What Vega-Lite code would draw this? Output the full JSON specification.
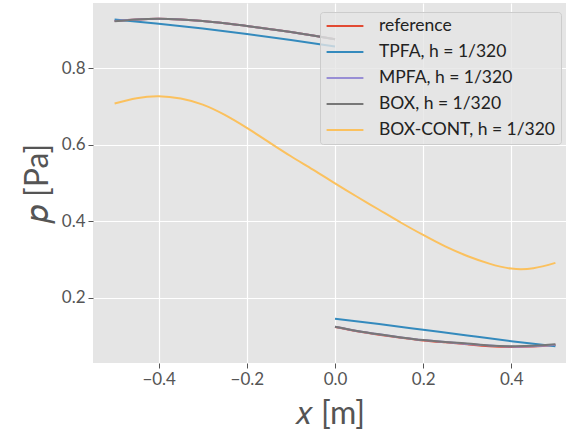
{
  "$schema": "https://vega.github.io/schema/vega-lite/v6.json",
  "autosize": {"type": "none"},
  "padding": {"left": 93, "top": 3, "right": 0, "bottom": 71},
  "width": 473,
  "height": 360,
  "data": {"values": [
    {"s":"reference","g":"L","x":-0.5,"p":0.924},{"s":"reference","g":"L","x":-0.45,"p":0.928},{"s":"reference","g":"L","x":-0.4,"p":0.930},{"s":"reference","g":"L","x":-0.35,"p":0.928},{"s":"reference","g":"L","x":-0.3,"p":0.924},{"s":"reference","g":"L","x":-0.25,"p":0.918},{"s":"reference","g":"L","x":-0.2,"p":0.911},{"s":"reference","g":"L","x":-0.15,"p":0.903},{"s":"reference","g":"L","x":-0.1,"p":0.895},{"s":"reference","g":"L","x":-0.05,"p":0.886},{"s":"reference","g":"L","x":0.0,"p":0.876},
    {"s":"reference","g":"R","x":0.0,"p":0.123},{"s":"reference","g":"R","x":0.05,"p":0.112},{"s":"reference","g":"R","x":0.1,"p":0.103},{"s":"reference","g":"R","x":0.15,"p":0.095},{"s":"reference","g":"R","x":0.2,"p":0.088},{"s":"reference","g":"R","x":0.25,"p":0.083},{"s":"reference","g":"R","x":0.3,"p":0.078},{"s":"reference","g":"R","x":0.35,"p":0.073},{"s":"reference","g":"R","x":0.4,"p":0.071},{"s":"reference","g":"R","x":0.45,"p":0.072},{"s":"reference","g":"R","x":0.5,"p":0.076},
    {"s":"TPFA, h = 1/320","g":"L","x":-0.5,"p":0.928},{"s":"TPFA, h = 1/320","g":"L","x":-0.4,"p":0.917},{"s":"TPFA, h = 1/320","g":"L","x":-0.3,"p":0.904},{"s":"TPFA, h = 1/320","g":"L","x":-0.2,"p":0.890},{"s":"TPFA, h = 1/320","g":"L","x":-0.1,"p":0.874},{"s":"TPFA, h = 1/320","g":"L","x":0.0,"p":0.857},
    {"s":"TPFA, h = 1/320","g":"R","x":0.0,"p":0.145},{"s":"TPFA, h = 1/320","g":"R","x":0.1,"p":0.131},{"s":"TPFA, h = 1/320","g":"R","x":0.2,"p":0.116},{"s":"TPFA, h = 1/320","g":"R","x":0.3,"p":0.101},{"s":"TPFA, h = 1/320","g":"R","x":0.4,"p":0.086},{"s":"TPFA, h = 1/320","g":"R","x":0.5,"p":0.073},
    {"s":"MPFA, h = 1/320","g":"L","x":-0.5,"p":0.924},{"s":"MPFA, h = 1/320","g":"L","x":-0.45,"p":0.928},{"s":"MPFA, h = 1/320","g":"L","x":-0.4,"p":0.930},{"s":"MPFA, h = 1/320","g":"L","x":-0.35,"p":0.928},{"s":"MPFA, h = 1/320","g":"L","x":-0.3,"p":0.924},{"s":"MPFA, h = 1/320","g":"L","x":-0.25,"p":0.918},{"s":"MPFA, h = 1/320","g":"L","x":-0.2,"p":0.911},{"s":"MPFA, h = 1/320","g":"L","x":-0.15,"p":0.903},{"s":"MPFA, h = 1/320","g":"L","x":-0.1,"p":0.895},{"s":"MPFA, h = 1/320","g":"L","x":-0.05,"p":0.886},{"s":"MPFA, h = 1/320","g":"L","x":0.0,"p":0.876},
    {"s":"MPFA, h = 1/320","g":"R","x":0.0,"p":0.124},{"s":"MPFA, h = 1/320","g":"R","x":0.05,"p":0.113},{"s":"MPFA, h = 1/320","g":"R","x":0.1,"p":0.104},{"s":"MPFA, h = 1/320","g":"R","x":0.15,"p":0.096},{"s":"MPFA, h = 1/320","g":"R","x":0.2,"p":0.089},{"s":"MPFA, h = 1/320","g":"R","x":0.25,"p":0.084},{"s":"MPFA, h = 1/320","g":"R","x":0.3,"p":0.079},{"s":"MPFA, h = 1/320","g":"R","x":0.35,"p":0.075},{"s":"MPFA, h = 1/320","g":"R","x":0.4,"p":0.072},{"s":"MPFA, h = 1/320","g":"R","x":0.45,"p":0.073},{"s":"MPFA, h = 1/320","g":"R","x":0.5,"p":0.077},
    {"s":"BOX, h = 1/320","g":"L","x":-0.5,"p":0.923},{"s":"BOX, h = 1/320","g":"L","x":-0.45,"p":0.928},{"s":"BOX, h = 1/320","g":"L","x":-0.4,"p":0.930},{"s":"BOX, h = 1/320","g":"L","x":-0.35,"p":0.928},{"s":"BOX, h = 1/320","g":"L","x":-0.3,"p":0.924},{"s":"BOX, h = 1/320","g":"L","x":-0.25,"p":0.918},{"s":"BOX, h = 1/320","g":"L","x":-0.2,"p":0.911},{"s":"BOX, h = 1/320","g":"L","x":-0.15,"p":0.903},{"s":"BOX, h = 1/320","g":"L","x":-0.1,"p":0.895},{"s":"BOX, h = 1/320","g":"L","x":-0.05,"p":0.886},{"s":"BOX, h = 1/320","g":"L","x":0.0,"p":0.876},
    {"s":"BOX, h = 1/320","g":"R","x":0.0,"p":0.124},{"s":"BOX, h = 1/320","g":"R","x":0.05,"p":0.113},{"s":"BOX, h = 1/320","g":"R","x":0.1,"p":0.104},{"s":"BOX, h = 1/320","g":"R","x":0.15,"p":0.096},{"s":"BOX, h = 1/320","g":"R","x":0.2,"p":0.089},{"s":"BOX, h = 1/320","g":"R","x":0.25,"p":0.084},{"s":"BOX, h = 1/320","g":"R","x":0.3,"p":0.080},{"s":"BOX, h = 1/320","g":"R","x":0.35,"p":0.075},{"s":"BOX, h = 1/320","g":"R","x":0.4,"p":0.073},{"s":"BOX, h = 1/320","g":"R","x":0.45,"p":0.074},{"s":"BOX, h = 1/320","g":"R","x":0.5,"p":0.078},
    {"s":"BOX-CONT, h = 1/320","g":"A","x":-0.5,"p":0.708},{"s":"BOX-CONT, h = 1/320","g":"A","x":-0.45,"p":0.722},{"s":"BOX-CONT, h = 1/320","g":"A","x":-0.4,"p":0.727},{"s":"BOX-CONT, h = 1/320","g":"A","x":-0.35,"p":0.721},{"s":"BOX-CONT, h = 1/320","g":"A","x":-0.3,"p":0.705},{"s":"BOX-CONT, h = 1/320","g":"A","x":-0.25,"p":0.678},{"s":"BOX-CONT, h = 1/320","g":"A","x":-0.2,"p":0.644},{"s":"BOX-CONT, h = 1/320","g":"A","x":-0.15,"p":0.607},{"s":"BOX-CONT, h = 1/320","g":"A","x":-0.1,"p":0.570},{"s":"BOX-CONT, h = 1/320","g":"A","x":-0.05,"p":0.535},{"s":"BOX-CONT, h = 1/320","g":"A","x":0.0,"p":0.499},{"s":"BOX-CONT, h = 1/320","g":"A","x":0.05,"p":0.464},{"s":"BOX-CONT, h = 1/320","g":"A","x":0.1,"p":0.430},{"s":"BOX-CONT, h = 1/320","g":"A","x":0.15,"p":0.396},{"s":"BOX-CONT, h = 1/320","g":"A","x":0.2,"p":0.364},{"s":"BOX-CONT, h = 1/320","g":"A","x":0.25,"p":0.334},{"s":"BOX-CONT, h = 1/320","g":"A","x":0.3,"p":0.309},{"s":"BOX-CONT, h = 1/320","g":"A","x":0.35,"p":0.289},{"s":"BOX-CONT, h = 1/320","g":"A","x":0.4,"p":0.276},{"s":"BOX-CONT, h = 1/320","g":"A","x":0.45,"p":0.277},{"s":"BOX-CONT, h = 1/320","g":"A","x":0.5,"p":0.291}
  ]},
  "mark": {"type": "line", "strokeWidth": 2, "interpolate": "natural"},
  "encoding": {
    "x": {"field": "x", "type": "quantitative", "scale": {"domain": [-0.549, 0.524], "nice": false, "zero": false},
      "axis": {"title": "𝑥 [m]", "values": [-0.4, -0.2, 0, 0.2, 0.4], "format": ".1f", "titlePadding": 11}},
    "y": {"field": "p", "type": "quantitative", "scale": {"domain": [0.029, 0.971], "nice": false, "zero": false},
      "axis": {"title": "𝑝 [Pa]", "values": [0.2, 0.4, 0.6, 0.8], "format": ".1f", "titlePadding": 7}},
    "color": {"field": "s", "type": "nominal",
      "scale": {"domain": ["reference", "TPFA, h = 1/320", "MPFA, h = 1/320", "BOX, h = 1/320", "BOX-CONT, h = 1/320"],
                "range": ["#E24A33", "#348ABD", "#988ED5", "#777777", "#FBC15E"]},
      "legend": {"title": null, "orient": "none", "legendX": 227, "legendY": 9}},
    "detail": {"field": "g", "type": "nominal"}
  },
  "config": {
    "font": "Lato",
    "view": {"fill": "#E5E5E5", "stroke": null},
    "axis": {"domain": false, "grid": true, "gridColor": "#FFFFFF", "gridWidth": 1.2, "gridOpacity": 1,
      "tickColor": "#555555", "tickSize": 5, "tickWidth": 1, "labelColor": "#555555", "labelFontSize": 17, "labelPadding": 3,
      "titleColor": "#555555", "titleFontSize": 32, "titleFontWeight": "normal"},
    "legend": {"symbolType": "M-2.3,0H2.3", "symbolSize": 256, "symbolStrokeWidth": 2, "labelFontSize": 17.5, "labelColor": "#222222",
      "padding": 5, "rowPadding": 8, "fillColor": "rgba(229,229,229,0.8)", "strokeColor": "#CCCCCC", "cornerRadius": 3,
      "symbolOffset": 11, "labelOffset": 25, "labelLimit": 300}
  }
}
